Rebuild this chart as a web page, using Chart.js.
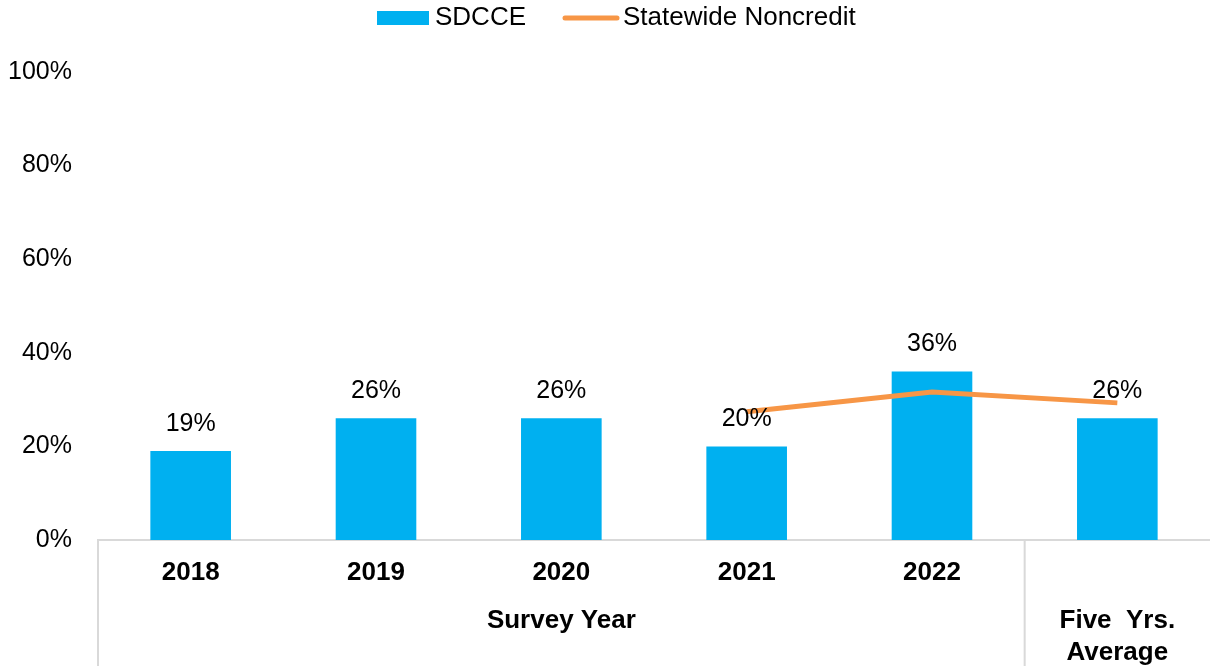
<!DOCTYPE html>
<html>
<head>
<meta charset="utf-8">
<script src="https://cdn.jsdelivr.net/npm/chart.js@4.4.1/dist/chart.umd.min.js"></script>
<style>
  html, body { margin: 0; padding: 0; background: #fff; }
  #wrap { width: 1210px; height: 666px; position: relative; }
</style>
</head>
<body>
<div id="wrap"><canvas id="chart"></canvas></div>
<script>
const categories = ["2018", "2019", "2020", "2021", "2022", "Five Yrs. Average"];
const sdcceValues = [19, 26, 26, 20, 36, 26];
const statewideValues = [null, null, null, 27.4, 31.6, 29.3];
const yTicks = [0, 20, 40, 60, 80, 100];
const groupLabels = [
  { text: ["Survey Year"], from: 0, to: 4 },
  { text: ["Five  Yrs.", "Average"], from: 5, to: 5 }
];

const FONT = "'Liberation Sans', Arial, sans-serif";
const BLUE = "#00B0F0";
const ORANGE = "#F79646";
const AXIS_GREY = "#D9D9D9";

// value labels above bars
const barLabels = {
  id: "barLabels",
  afterDatasetsDraw(chart) {
    const ctx = chart.ctx;
    const meta = chart.getDatasetMeta(1);
    ctx.save();
    ctx.font = "25px " + FONT;
    ctx.fillStyle = "#000";
    ctx.textAlign = "center";
    ctx.textBaseline = "middle";
    meta.data.forEach((bar, i) => {
      ctx.fillText(sdcceValues[i] + "%", bar.x, bar.y - 27);
    });
    ctx.restore();
  }
};

// two-level category axis with separators
const groupAxis = {
  id: "groupAxis",
  afterDraw(chart) {
    const ctx = chart.ctx;
    const x = chart.scales.x;
    const area = chart.chartArea;
    const bottom = chart.height;
    ctx.save();
    ctx.strokeStyle = AXIS_GREY;
    ctx.lineWidth = 2;
    const sep = (x.getPixelForValue(4) + x.getPixelForValue(5)) / 2;
    ctx.beginPath();
    ctx.moveTo(area.left, area.bottom);
    ctx.lineTo(area.left, bottom);
    ctx.moveTo(sep, area.bottom);
    ctx.lineTo(sep, bottom);
    ctx.stroke();

    ctx.fillStyle = "#000";
    ctx.font = "bold 26px " + FONT;
    ctx.textAlign = "center";
    ctx.textBaseline = "middle";
    for (let i = 0; i < 5; i++) {
      ctx.fillText(categories[i], x.getPixelForValue(i), area.bottom + 33);
    }
    groupLabels.forEach(g => {
      const cx = (x.getPixelForValue(g.from) + x.getPixelForValue(g.to)) / 2;
      g.text.forEach((line, k) => {
        ctx.fillText(line, cx, area.bottom + 81 + k * 32);
      });
    });
    ctx.restore();
  }
};

// legend row at the top
const topLegend = {
  id: "topLegend",
  afterDraw(chart) {
    const ctx = chart.ctx;
    const bars = chart.data.datasets[1];
    const line = chart.data.datasets[0];
    ctx.save();
    ctx.font = "26px " + FONT;
    ctx.textBaseline = "middle";
    ctx.textAlign = "left";
    const y = 18;
    let left = 377;
    ctx.fillStyle = bars.backgroundColor;
    ctx.fillRect(left, y - 7, 52, 14);
    left += 58;
    ctx.fillStyle = "#000";
    ctx.fillText(bars.label, left, y);
    left += ctx.measureText(bars.label).width + 37;
    ctx.strokeStyle = line.borderColor;
    ctx.lineWidth = 5;
    ctx.lineCap = "round";
    ctx.beginPath();
    ctx.moveTo(left + 2, y);
    ctx.lineTo(left + 54, y);
    ctx.stroke();
    left += 60;
    ctx.fillText(line.label, left, y);
    ctx.restore();
  }
};

new Chart(document.getElementById("chart"), {
  data: {
    labels: categories,
    datasets: [
      {
        type: "line",
        label: "Statewide Noncredit",
        data: statewideValues,
        borderColor: ORANGE,
        backgroundColor: ORANGE,
        borderWidth: 5,
        pointRadius: 0,
        order: 0
      },
      {
        type: "bar",
        label: "SDCCE",
        data: sdcceValues,
        backgroundColor: BLUE,
        barPercentage: 0.435,
        categoryPercentage: 1,
        order: 1
      }
    ]
  },
  options: {
    responsive: true,
    maintainAspectRatio: false,
    animation: false,
    layout: { padding: { top: 72, left: 0, right: 0, bottom: 126 } },
    plugins: {
      legend: { display: false },
      tooltip: { enabled: false }
    },
    scales: {
      x: {
        grid: { display: false, drawTicks: false },
        ticks: { display: false },
        border: { display: true, color: AXIS_GREY, width: 2 }
      },
      y: {
        min: 0,
        max: 100,
        afterBuildTicks: axis => { axis.ticks = yTicks.map(v => ({ value: v })); },
        afterFit: axis => { axis.width = 98; },
        grid: { display: false, drawTicks: false },
        border: { display: false },
        ticks: {
          padding: 26,
          color: "#000",
          font: { family: FONT, size: 25 },
          callback: v => v + "%"
        }
      }
    }
  },
  plugins: [barLabels, groupAxis, topLegend]
});
</script>
</body>
</html>
